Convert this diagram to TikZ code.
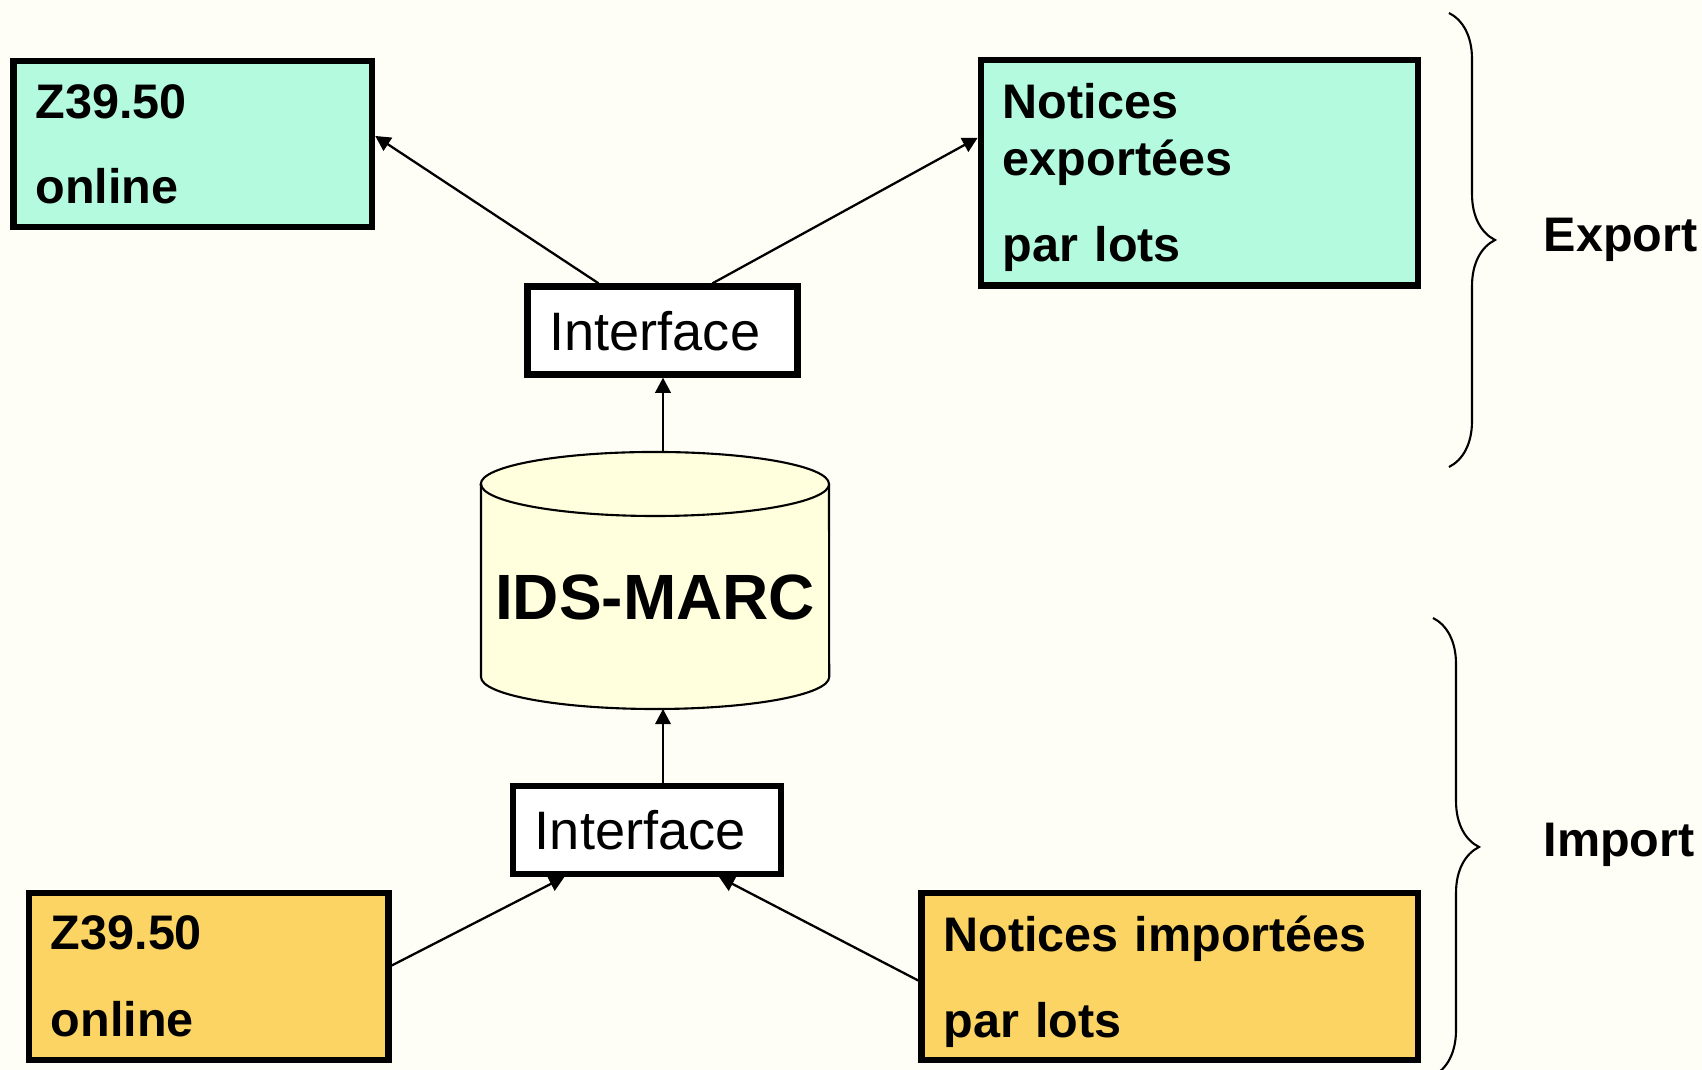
\documentclass[tikz,border=0pt]{standalone}
\usepackage{fontspec}
\setmainfont{Liberation Sans}
\usetikzlibrary{arrows.meta,decorations.pathreplacing}

\definecolor{bgcol}{RGB}{255,254,246}
\definecolor{expcol}{RGB}{180,250,222}
\definecolor{impcol}{RGB}{251,212,100}
\definecolor{dbcol}{RGB}{255,254,221}

\begin{document}
\begin{tikzpicture}[x=0.01cm, y=0.01cm,
  >={Triangle[length=4.3pt,width=4.4pt]},
  box/.style={draw, line width=1.8pt, inner xsep=0.22cm, inner ysep=0pt,
    align=left, font=\fontsize{13.8pt}{16.2pt}\selectfont\bfseries},
  iface/.style={draw, fill=white, line width=1.8pt, inner xsep=0.22cm, inner ysep=0pt,
    minimum height=0.88cm, text depth=0pt, font=\fontsize{15.4pt}{18pt}\selectfont},
  conn/.style={line width=0.65pt},
  brace/.style={line width=0.6pt, decorate, decoration={brace, amplitude=0.46cm}},
  side/.style={inner sep=0pt, anchor=base west, font=\fontsize{13.8pt}{16.2pt}\selectfont\bfseries}]

  % page
  \useasboundingbox (0,0) rectangle (1702,1070);
  \clip (0,0) rectangle (1702,1070);
  \fill[bgcol] (0,0) rectangle (1702,1070);

  % export side
  \node[box, fill=expcol, text width=3.145cm, minimum height=1.66cm] (zexp) at (192.75,926) {Z39.50\\[8pt]online};
  \node[box, fill=expcol, text width=3.93cm, minimum height=2.255cm, text depth=40.7pt] (nexp) at (1199.5,897.25) {Notices\\exportées\\[8.3pt]par lots};
  \node[iface, text width=2.26cm] (iexp) at (662.5,739.5) {Interface};

  % database
  \draw[line width=0.6pt, fill=dbcol] (481,586) -- (481,393)
    arc[start angle=180, end angle=360, x radius=1.74cm, y radius=0.32cm] -- (829,586)
    arc[start angle=0, end angle=180, x radius=1.74cm, y radius=0.32cm] -- cycle;
  \draw[line width=0.6pt] (481,586) arc[start angle=180, end angle=360, x radius=1.74cm, y radius=0.32cm];
  \node[anchor=base, inner sep=0pt, font=\fontsize{18.2pt}{22pt}\selectfont\bfseries] (db) at (655,450) {IDS-MARC};
  \coordinate (dbtop) at (663,618);
  \coordinate (dbbot) at (663,361);

  % import side
  \node[iface, text width=2.24cm] (iimp) at (647,240.25) {Interface};
  \node[box, fill=impcol, text width=3.155cm, minimum height=1.67cm] (zimp) at (208.75,93.5) {Z39.50\\[8.4pt]online};
  \node[box, fill=impcol, text width=4.525cm, minimum height=1.67cm, text depth=24.6pt] (nimp) at (1169.75,93.5) {Notices importées\\[8.4pt]par lots};

  % connectors
  \draw[conn, ->] (dbtop) -- (dbtop |- iexp.south);
  \draw[conn, ->] ([xshift=-0.64cm]iexp.north) -- ([yshift=0.08cm]zexp.east);
  \draw[conn, ->] ([xshift=0.5cm]iexp.north) -- ([yshift=0.35cm]nexp.west);
  \draw[conn, ->] (dbbot |- iimp.north) -- (dbbot);
  \draw[conn, ->] ([yshift=0.11cm]zimp.east) -- ([xshift=-0.825cm]iimp.south);
  \draw[conn, ->] ([yshift=-0.04cm]nimp.west) -- ([xshift=0.72cm]iimp.south);

  % braces
  \draw[brace] (1449,1057) -- (1449,603);
  \draw[brace] (1433,452) -- (1433,-6);
  \node[side] (exp) at (1543,818) {Export};
  \node[side] (imp) at (1543,213) {Import};
\end{tikzpicture}
\end{document}
